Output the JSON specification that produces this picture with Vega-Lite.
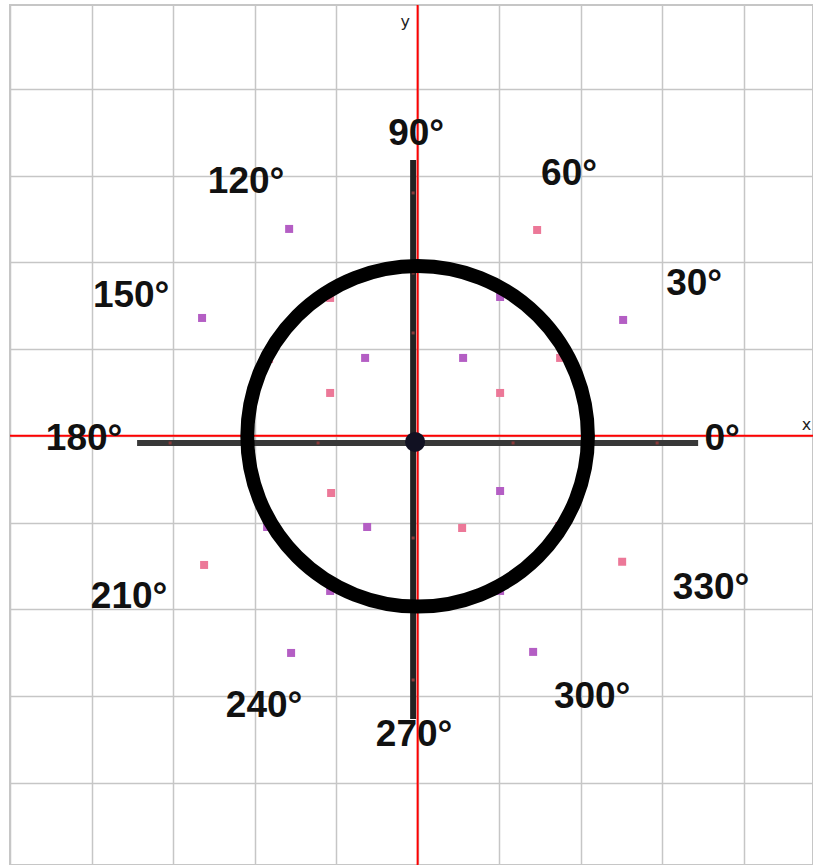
{
  "$schema": "https://vega.github.io/schema/vega-lite/v6.json",
  "width": 803,
  "height": 860,
  "padding": {"left": 10, "top": 5, "right": 0, "bottom": 0},
  "autosize": {"type": "none"},
  "background": "white",
  "config": {
    "view": {"stroke": "#c6c6c6", "strokeWidth": 2},
    "axis": {"grid": true, "gridColor": "#c6c6c6", "gridWidth": 1.5, "labels": false, "ticks": false, "domain": false, "title": null}
  },
  "datasets": {
    "origin": [{"x": 0, "y": 0}],
    "hbar": [{"x": -3.441, "x2": 3.441, "y": -0.082}],
    "vbar": [{"x": -0.055, "y": 3.183, "y2": -3.266}],
    "barticks": [
      {"x": -3.036, "y": -0.082},
      {"x": -1.221, "y": -0.082},
      {"x": 1.171, "y": -0.082},
      {"x": 2.938, "y": -0.082},
      {"x": -0.055, "y": 2.802},
      {"x": -0.055, "y": 1.879},
      {"x": -0.055, "y": 1.187},
      {"x": -0.055, "y": -1.178},
      {"x": -0.055, "y": -2.816}
    ],
    "dots": [
      {"x": -1.576, "y": 2.387, "g": "purple"},
      {"x": -2.644, "y": 1.360, "g": "purple"},
      {"x": 1.466, "y": 2.375, "g": "pink"},
      {"x": 2.521, "y": 1.337, "g": "purple"},
      {"x": -2.619, "y": -1.489, "g": "pink"},
      {"x": -1.552, "y": -2.504, "g": "purple"},
      {"x": 1.417, "y": -2.492, "g": "purple"},
      {"x": 2.509, "y": -1.452, "g": "pink"},
      {"x": -1.073, "y": 1.591, "g": "pink"},
      {"x": -0.644, "y": 0.899, "g": "purple"},
      {"x": -1.073, "y": 0.495, "g": "pink"},
      {"x": 1.012, "y": 1.602, "g": "purple"},
      {"x": 0.558, "y": 0.899, "g": "purple"},
      {"x": 1.012, "y": 0.495, "g": "pink"},
      {"x": 1.748, "y": 0.899, "g": "pink"},
      {"x": -1.822, "y": 0.887, "g": "pink"},
      {"x": -1.061, "y": -0.659, "g": "pink"},
      {"x": -0.619, "y": -1.051, "g": "purple"},
      {"x": -1.846, "y": -1.051, "g": "purple"},
      {"x": -1.073, "y": -1.789, "g": "purple"},
      {"x": 1.012, "y": -0.636, "g": "purple"},
      {"x": 0.546, "y": -1.063, "g": "pink"},
      {"x": 1.736, "y": -1.040, "g": "pink"},
      {"x": 1.012, "y": -1.789, "g": "purple"}
    ],
    "circle": [{"x": 0.0, "y": -0.005}],
    "center": [{"x": -0.031, "y": -0.07}],
    "labels": [
      {"x": 3.735, "y": -0.036, "t": "0°"},
      {"x": 3.392, "y": 1.752, "t": "30°"},
      {"x": 1.858, "y": 3.021, "t": "60°"},
      {"x": -0.018, "y": 3.483, "t": "90°"},
      {"x": -2.104, "y": 2.929, "t": "120°"},
      {"x": -3.514, "y": 1.614, "t": "150°"},
      {"x": -4.091, "y": -0.036, "t": "180°"},
      {"x": -3.539, "y": -1.858, "t": "210°"},
      {"x": -1.883, "y": -3.116, "t": "240°"},
      {"x": -0.043, "y": -3.45, "t": "270°"},
      {"x": 2.141, "y": -3.012, "t": "300°"},
      {"x": 3.6, "y": -1.755, "t": "330°"}
    ],
    "axisnames": [
      {"x": -0.153, "y": 4.77, "t": "y"},
      {"x": 4.77, "y": 0.126, "t": "x"}
    ]
  },
  "layer": [
    {
      "data": {"name": "origin"},
      "mark": {"type": "rule", "color": "#ff0000", "strokeWidth": 2},
      "encoding": {
        "x": {"field": "x", "type": "quantitative", "scale": {"domain": [-5, 4.85], "nice": false, "zero": false}, "axis": {"values": [-5, -4, -3, -2, -1, 0, 1, 2, 3, 4]}},
        "y": {"field": "y", "type": "quantitative", "scale": {"domain": [-4.95, 4.97], "nice": false, "zero": false}, "axis": {"values": [-4, -3, -2, -1, 0, 1, 2, 3, 4, 5]}}
      }
    },
    {
      "data": {"name": "origin"},
      "mark": {"type": "rule", "color": "#ff0000", "strokeWidth": 2},
      "encoding": {"x": {"field": "x", "type": "quantitative"}}
    },
    {
      "data": {"name": "origin"},
      "mark": {"type": "rule", "color": "#ff0000", "strokeWidth": 2},
      "encoding": {"y": {"field": "y", "type": "quantitative"}}
    },
    {
      "data": {"name": "hbar"},
      "mark": {"type": "rule", "color": "#383838", "strokeWidth": 6},
      "encoding": {
        "x": {"field": "x", "type": "quantitative"},
        "x2": {"field": "x2"},
        "y": {"field": "y", "type": "quantitative"}
      }
    },
    {
      "data": {"name": "vbar"},
      "mark": {"type": "rule", "color": "#222222", "strokeWidth": 6},
      "encoding": {
        "x": {"field": "x", "type": "quantitative"},
        "y": {"field": "y", "type": "quantitative"},
        "y2": {"field": "y2"}
      }
    },
    {
      "data": {"name": "barticks"},
      "mark": {"type": "point", "shape": "square", "filled": true, "size": 9, "color": "#8a3a3a", "opacity": 1},
      "encoding": {
        "x": {"field": "x", "type": "quantitative"},
        "y": {"field": "y", "type": "quantitative"}
      }
    },
    {
      "data": {"name": "dots"},
      "mark": {"type": "point", "shape": "square", "filled": true, "size": 64, "opacity": 1},
      "encoding": {
        "x": {"field": "x", "type": "quantitative"},
        "y": {"field": "y", "type": "quantitative"},
        "color": {"field": "g", "type": "nominal", "scale": {"domain": ["purple", "pink"], "range": ["#b45ec4", "#ec7898"]}, "legend": null}
      }
    },
    {
      "data": {"name": "circle"},
      "mark": {"type": "point", "shape": "circle", "filled": false, "size": 116000, "stroke": "#000000", "strokeWidth": 14, "opacity": 1},
      "encoding": {
        "x": {"field": "x", "type": "quantitative"},
        "y": {"field": "y", "type": "quantitative"}
      }
    },
    {
      "data": {"name": "center"},
      "mark": {"type": "point", "shape": "circle", "filled": true, "size": 400, "color": "#111122", "opacity": 1},
      "encoding": {
        "x": {"field": "x", "type": "quantitative"},
        "y": {"field": "y", "type": "quantitative"}
      }
    },
    {
      "data": {"name": "labels"},
      "mark": {"type": "text", "font": "Liberation Sans", "fontWeight": "bold", "fontSize": 37, "color": "#111111", "align": "center", "baseline": "middle"},
      "encoding": {
        "x": {"field": "x", "type": "quantitative"},
        "y": {"field": "y", "type": "quantitative"},
        "text": {"field": "t", "type": "nominal"}
      }
    },
    {
      "data": {"name": "axisnames"},
      "mark": {"type": "text", "font": "DejaVu Sans", "fontSize": 16, "color": "#222222", "align": "center", "baseline": "middle"},
      "encoding": {
        "x": {"field": "x", "type": "quantitative"},
        "y": {"field": "y", "type": "quantitative"},
        "text": {"field": "t", "type": "nominal"}
      }
    }
  ]
}
